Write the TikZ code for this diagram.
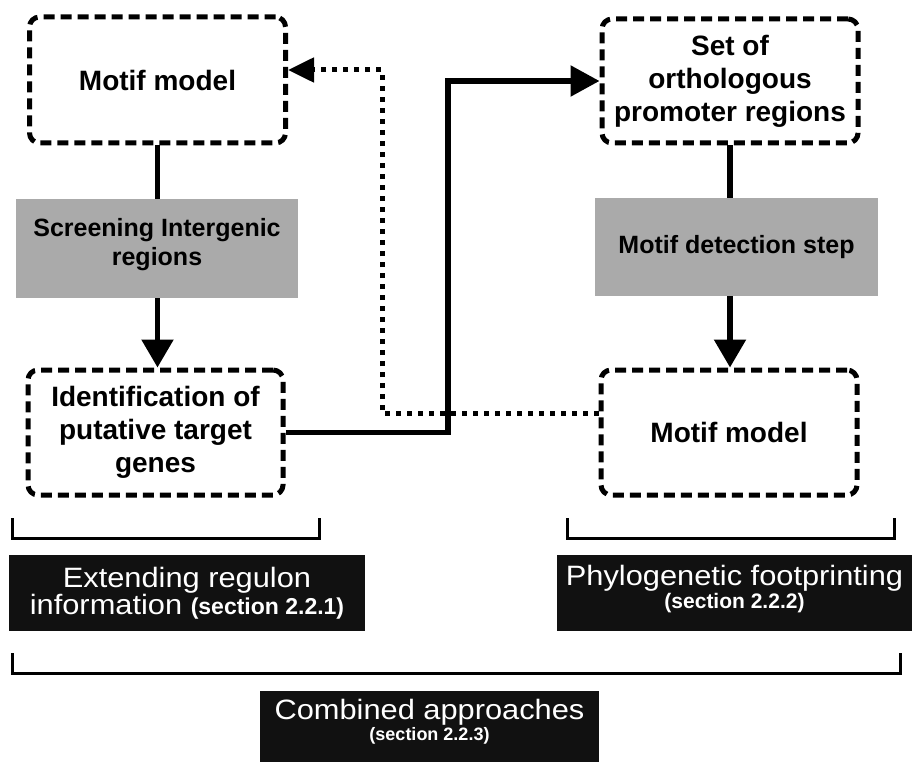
\documentclass[tikz,border=0pt]{standalone}
\usepackage{fontspec}
\setmainfont{Liberation Sans}
\newfontfamily\widefont[FakeStretch=1.1]{Liberation Sans}
\usetikzlibrary{arrows.meta,positioning}
\definecolor{boxgray}{RGB}{170,170,170}
\definecolor{tagblack}{RGB}{17,17,17}
\newcommand{\sect}[2]{{\normalfont\bfseries\fontsize{#1}{#1}\selectfont #2}}

\begin{document}
\begin{tikzpicture}[x=1pt,y=-1pt,
  model/.style={draw, line width=5pt, dash pattern=on 11pt off 6pt, rounded corners=10pt,
    align=center, inner sep=0pt, font=\bfseries\fontsize{28}{33}\selectfont},
  stepbox/.style={fill=boxgray, align=center, inner sep=0pt, font=\bfseries\fontsize{25}{29}\selectfont},
  tagbox/.style={fill=tagblack, text=white, align=center, inner sep=0pt, font=\widefont\fontsize{28}{29}\selectfont},
  link/.style={line width=5.5pt},
  back/.style={line width=5pt, dash pattern=on 5pt off 6pt},
  brace/.style={line width=3pt}]
  \useasboundingbox (0,0) rectangle (912,762);

  % boxes
  \node[model, minimum width=256pt, minimum height=126pt] (motifA) at (157.5,80) {Motif model};
  \node[model, minimum width=256pt, minimum height=124pt] (ortho) at (730,81) {Set of\\orthologous\\promoter regions};
  \node[model, minimum width=255pt, minimum height=125pt] (ident) at (155.5,432.5) {Identification of\\putative target\\genes};
  \node[model, minimum width=256pt, minimum height=125pt] (motifB) at (729,432.5) {Motif model};
  \node[stepbox, minimum width=282pt, minimum height=99pt, text depth=14pt] (screen) at (157,248.5) {Screening Intergenic\\regions};
  \node[stepbox, minimum width=283pt, minimum height=98pt] (detect) at (736.5,247) {Motif detection step};

  % links
  \draw[link] (motifA.south) -- (motifA.south |- screen.north);
  \draw[link, -{Triangle[length=28pt,width=31pt]}] (motifA.south |- screen.south) -- (motifA.south |- ident.north);
  \draw[link] (ortho.south) -- (ortho.south |- detect.north);
  \draw[link, -{Triangle[length=28pt,width=31pt]}] (ortho.south |- detect.south) -- (ortho.south |- motifB.north);

  \coordinate (jog) at (448,82);
  \coordinate (bend) at (382,70);
  \draw[back, -{Triangle[length=26pt,width=24pt]}] ([yshift=19pt]motifB.west) -| (bend) -- (bend -| motifA.east);
  \draw[link, -{Triangle[length=29pt,width=30pt]}] (ident.east) -- (ident.east -| jog) |- (ortho.west);

  % brackets
  \foreach \a/\b/\y in {12/319/538, 567/894/538, 12/900/673}
    \draw[brace] (\a,\y-20) |- (\b,\y) -- (\b,\y-20);

  % labels
  \node[tagbox, minimum width=356pt, minimum height=76pt] (regulon) at (187,593)
    {Extending regulon\\[-2pt]information \sect{23}{(section 2.2.1)}};
  \node[tagbox, minimum width=355pt, minimum height=76pt, text depth=12pt] (footprint) at (734.5,593)
    {Phylogenetic footprinting\\[-6pt]\sect{21}{(section 2.2.2)}};
  \node[tagbox, minimum width=339pt, minimum height=71pt, text depth=14pt] (combined) at (429.5,726.5)
    {Combined approaches\\[-8pt]\sect{18}{(section 2.2.3)}};
\end{tikzpicture}
\end{document}
